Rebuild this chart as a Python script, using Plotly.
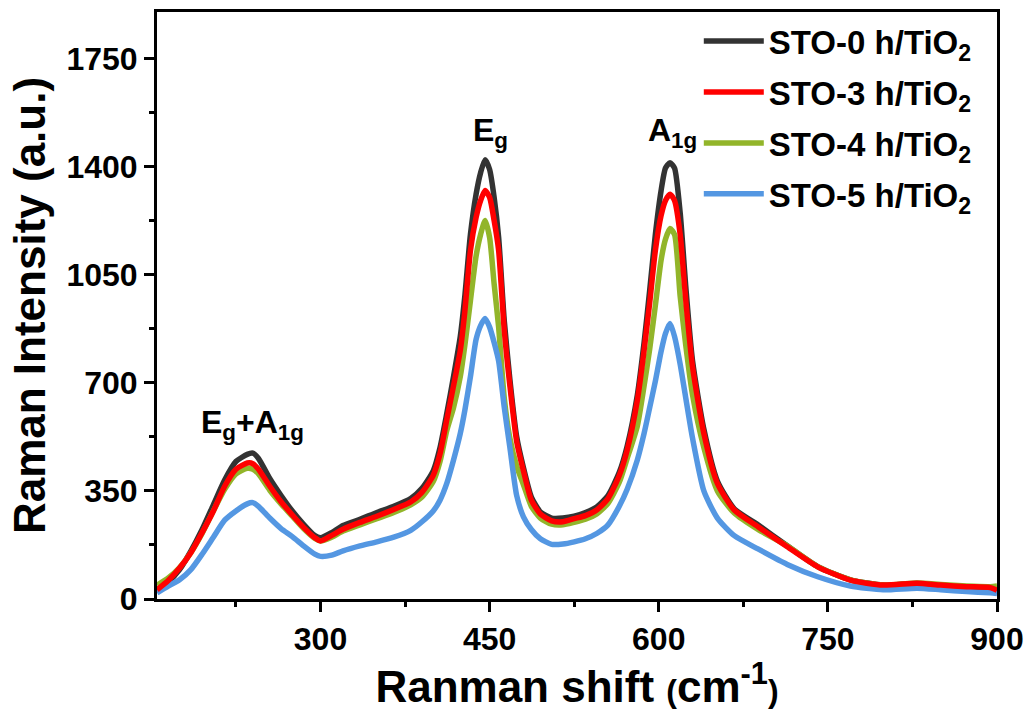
import plotly.graph_objects as go

# Raman shift (cm-1)
shift = [155,165,175,185,195,205,215,225,235,240,
         245,255,265,275,285,295,300,310,320,335,
         350,365,380,390,400,406,412,418,424,428,
         433,438,442,446,450,454,458,463,468,474,
         480,487,495,505,515,525,535,545,555,565,
         572,581,587,592,597,602,606,610,614,619,
         624,630,640,652,667,688,714,741,770,799,
         829,850,873,894,900]

sto0 = [28,55,95,155,225,305,385,445,468,472,
        455,390,335,285,242,205,198,215,238,258,
        280,300,325,358,415,490,600,720,850,980,
        1180,1310,1380,1422,1390,1300,1170,900,710,525,
        425,330,282,262,262,268,280,298,335,410,
        495,660,830,1000,1180,1320,1395,1412,1395,1250,
        1010,770,550,382,292,240,172,105,62,45,
        50,44,39,36,28]

sto3 = [30,60,100,150,215,285,365,420,440,438,
        420,365,315,272,232,198,188,206,226,248,
        268,290,314,345,400,470,580,690,805,930,
        1128,1235,1290,1322,1300,1225,1128,870,690,510,
        415,320,275,253,250,260,270,288,325,400,
        482,643,805,960,1128,1240,1290,1310,1290,1180,
        966,751,536,374,288,234,169,104,61,45,
        51,45,40,37,28]

sto4 = [45,68,102,150,212,285,355,405,423,420,
        405,352,308,268,228,196,188,200,220,240,
        260,280,305,330,380,445,545,620,720,820,
        966,1110,1180,1225,1170,1020,880,650,520,430,
        370,300,262,242,240,248,258,275,310,378,
        455,560,690,810,950,1095,1165,1199,1180,980,
        820,660,490,350,278,225,172,105,62,45,
        52,47,42,40,42]

sto5 = [20,42,62,95,145,200,255,285,308,312,
        300,262,228,202,172,145,138,142,156,172,
        185,200,222,250,285,320,374,450,536,610,
        720,840,885,908,880,830,770,620,490,335,
        266,225,195,177,178,185,195,212,240,300,
        355,450,536,620,705,800,860,892,850,760,
        650,520,350,262,205,162,112,72,42,30,
        35,30,24,20,18]

names = ["STO-0 h/TiO<sub>2</sub>", "STO-3 h/TiO<sub>2</sub>",
         "STO-4 h/TiO<sub>2</sub>", "STO-5 h/TiO<sub>2</sub>"]
colors = ["#333333", "#FF0000", "#92B52A", "#5497E2"]
series = [sto0, sto3, sto4, sto5]
draw_order = [0, 2, 3, 1]

FONT = "Liberation Sans, Arial, sans-serif"

def f(size):
    return dict(family=FONT, size=size, color="black", weight="bold")

fig = go.Figure()
for i in draw_order:
    fig.add_trace(go.Scatter(
        x=shift, y=series[i], mode="lines", name=names[i],
        line=dict(color=colors[i], width=5.5, shape="spline", smoothing=0.6),
        legendrank=i + 1, legendgroup=f"g{i}",
    ))

annots = [
    (240, 492, "E<sub>g</sub>+A<sub>1g</sub>"),
    (451, 1438, "E<sub>g</sub>"),
    (612, 1438, "A<sub>1g</sub>"),
]
for ax, ay, txt in annots:
    fig.add_annotation(x=ax, y=ay, text=txt, showarrow=False,
                       xanchor="center", yanchor="bottom", font=f(32))

axis_common = dict(
    showline=True, linewidth=3, linecolor="black", mirror=True,
    ticks="outside", ticklen=10, tickwidth=3, tickcolor="black",
    showgrid=False, zeroline=False,
    tickfont=f(32),
)

fig.update_xaxes(
    range=[155, 900], tickvals=[300, 450, 600, 750, 900],
    minor=dict(ticks="outside", ticklen=5, tickwidth=3, tickcolor="black",
               tickvals=[225, 375, 525, 675, 825], showgrid=False),
    title=dict(text="Ranman shift <span style='font-size:32px'>(</span>cm<sup>-1</sup><span style='font-size:32px'>)</span>",
               font=f(44), standoff=6),
    **axis_common,
)
fig.update_yaxes(
    range=[0, 1900], tickvals=[0, 350, 700, 1050, 1400, 1750],
    minor=dict(ticks="outside", ticklen=5, tickwidth=3, tickcolor="black",
               tickvals=[175, 525, 875, 1225, 1575], showgrid=False),
    title=dict(text="Raman Intensity (a.u.)", font=f(44), standoff=8),
    **axis_common,
)

fig.update_layout(
    width=1032, height=711,
    margin=dict(l=157, r=35, t=12, b=112, autoexpand=False),
    plot_bgcolor="white", paper_bgcolor="white",
    font=dict(family=FONT, color="black"),
    legend=dict(x=0.645, y=0.998, xanchor="left", yanchor="top",
                bgcolor="rgba(0,0,0,0)", borderwidth=0,
                font=f(33),
                itemwidth=60, tracegroupgap=5),
    showlegend=True,
)

fig.write_html("out.html")
